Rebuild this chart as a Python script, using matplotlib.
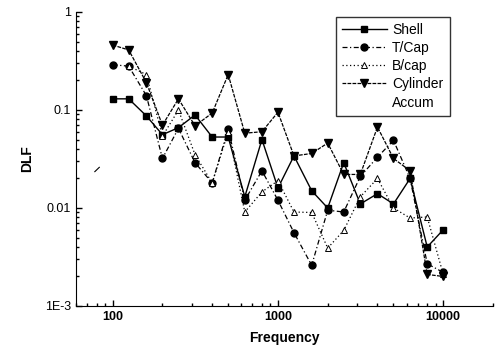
import matplotlib
matplotlib.use("Agg")
import matplotlib.pyplot as plt
from matplotlib.lines import Line2D
from matplotlib.ticker import FixedLocator, FixedFormatter, LogLocator, NullFormatter

plt.rcParams["font.family"] = ["Liberation Sans", "DejaVu Sans"]

freq = [100, 125, 160, 200, 250, 315, 400, 500, 630, 800, 1000,
        1250, 1600, 2000, 2500, 3150, 4000, 5000, 6300, 8000, 10000]

shell = [0.13, 0.13, 0.087, 0.056, 0.066, 0.089, 0.053, 0.053, 0.013, 0.05, 0.016,
         0.034, 0.015, 0.010, 0.029, 0.011, 0.014, 0.011, 0.020, 0.0040, 0.0060]
tcap = [0.29, 0.28, 0.14, 0.032, 0.065, 0.029, 0.018, 0.064, 0.012, 0.024, 0.012,
        0.0056, 0.0026, 0.0095, 0.0091, 0.021, 0.033, 0.049, 0.020, 0.0027, 0.0022]
bcap_freq = freq[1:]
bcap = [0.28, 0.23, 0.054, 0.10, 0.035, 0.018, 0.06, 0.0091, 0.0146, 0.019,
        0.0091, 0.009, 0.0039, 0.0059, 0.013, 0.02, 0.010, 0.0079, 0.0081, 0.0021]
cyl = [0.46, 0.41, 0.19, 0.070, 0.13, 0.069, 0.093, 0.23, 0.058, 0.060, 0.095,
       0.034, 0.036, 0.046, 0.022, 0.022, 0.067, 0.032, 0.024, 0.0021, 0.0020]

# stray mark left of the first band
stray_freq = [78, 83]
stray = [0.0235, 0.026]

fig = plt.figure(figsize=(5.02, 3.52), dpi=100)
ax = fig.add_axes([76 / 502, 1 - 306 / 352, (493 - 76) / 502, (306 - 12) / 352])

ax.plot(freq, shell, "-", color="black", lw=1.0, marker="s", ms=5, label="Shell")
ax.plot(freq, tcap, color="black", lw=0.9, ls=(0, (4, 2, 1, 2)), marker="o", ms=5, label="T/Cap")
ax.plot(bcap_freq, bcap, color="black", lw=0.9, ls=(0, (1, 2)), marker="^", ms=5,
        mfc="white", mew=0.7, label="B/cap")
ax.plot(freq, cyl, color="black", lw=0.9, ls=(0, (3, 1)), marker="v", ms=6, label="Cylinder")
ax.plot(stray_freq, stray, color="black", lw=0.8)

ax.set_xscale("log")
ax.set_yscale("log")
ax.set_xlim(60, 20000)
ax.set_ylim(1e-3, 1)

ax.yaxis.set_major_locator(FixedLocator([1e-3, 1e-2, 1e-1, 1]))
ax.yaxis.set_major_formatter(FixedFormatter(["1E-3", "0.01", "0.1", "1"]))
ax.yaxis.set_minor_locator(LogLocator(base=10, subs=range(2, 10)))
ax.yaxis.set_minor_formatter(NullFormatter())
ax.xaxis.set_major_locator(FixedLocator([100, 1000, 10000]))
ax.xaxis.set_major_formatter(FixedFormatter(["100", "1000", "10000"]))
ax.xaxis.set_minor_locator(LogLocator(base=10, subs=range(2, 10)))
ax.xaxis.set_minor_formatter(NullFormatter())

ax.spines["top"].set_visible(False)
ax.spines["right"].set_visible(False)
ax.tick_params(which="both", direction="in", width=1.0)
ax.tick_params(which="major", length=4, labelsize=9)
ax.tick_params(which="minor", length=2.5)
for lab in ax.get_xticklabels():
    lab.set_fontweight("bold")

ax.set_xlabel("Frequency", fontsize=10, fontweight="bold", labelpad=6)
ax.set_ylabel("DLF", fontsize=10, fontweight="bold", labelpad=8)

handles, labels = ax.get_legend_handles_labels()
handles.append(Line2D([], [], color="none"))
labels.append("Accum")
leg = ax.legend(handles, labels, loc="upper left", bbox_to_anchor=((329 - 76) / 417, 1.008),
                fontsize=10, frameon=True, fancybox=False, edgecolor="black",
                handlelength=3.2, borderpad=0.45, labelspacing=0.3, handletextpad=0.4)
leg.get_frame().set_linewidth(1.0)

fig.savefig("out.png", dpi=100)
